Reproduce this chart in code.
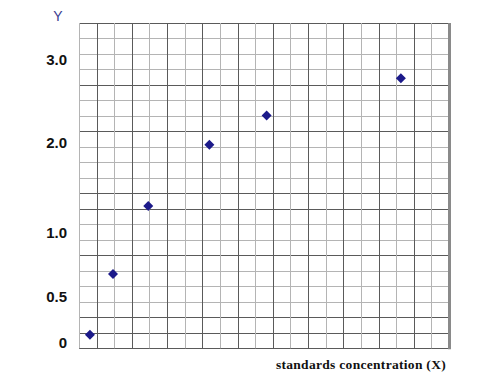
<!DOCTYPE html>
<html>
<head>
<meta charset="utf-8">
<script src="https://cdn.jsdelivr.net/npm/d3@7"></script>
<style>
  body { margin: 0; background: #fff; }
  svg { display: block; }
</style>
</head>
<body>
<div id="chart"></div>
<script>
// standards readings (x in grid units, y in absorbance-like units)
const xValues = [0.62, 1.93, 3.93, 7.4, 10.65, 18.27];
const yValues = [0.09, 0.68, 1.3, 1.98, 2.33, 2.78];

// tick labels on the y side (hand drawn, uneven spacing)
const yTicks = [0, 0.5, 1.0, 2.0, 3.0];
const yTickLabels = ["0", "0.5", "1.0", "2.0", "3.0"];

const gridCols = 21;
const gridRows = 21;
const darkRows = [4, 7, 11, 12, 15, 19, 20];

const width = 499;
const height = 385;

const margin = { top: 23, right: 50, bottom: 37, left: 79 };

const svg = d3
  .select("#chart")
  .append("svg")
  .attr("width", width)
  .attr("height", height);

const gx = d3
  .scaleLinear()
  .domain([0, gridCols])
  .range([margin.left, width - margin.right]);

const gy = d3
  .scaleLinear()
  .domain([0, gridRows])
  .range([margin.top, height - margin.bottom + 0.3]);

// y axis drawn by hand on the original, so map values piecewise
const y = d3
  .scaleLinear()
  .domain(yTicks)
  .range([343, 297, 233, 143, 60]);

const grid = svg.append("g").attr("class", "grid");

grid
  .selectAll(".hline")
  .data(d3.range(gridRows + 1))
  .join("line")
  .attr("class", "hline")
  .attr("x1", gx(0))
  .attr("x2", gx(gridCols))
  .attr("y1", (d) => Math.round(gy(d)) + 0.5)
  .attr("y2", (d) => Math.round(gy(d)) + 0.5)
  .attr("stroke", (d) => (darkRows.includes(d) || d === 0 || d === gridRows ? "#5a5a5a" : "#b4b4b4"))
  .attr("stroke-width", 1);

grid
  .selectAll(".vline")
  .data(d3.range(gridCols + 1))
  .join("line")
  .attr("class", "vline")
  .attr("y1", gy(0))
  .attr("y2", gy(gridRows))
  .attr("x1", (d) => Math.round(gx(d)) + 0.5)
  .attr("x2", (d) => Math.round(gx(d)) + 0.5)
  .attr("stroke", (d) => (d % 2 === 1 ? "#5a5a5a" : "#b4b4b4"))
  .attr("stroke-width", 1);

// thick right border
svg
  .append("line")
  .attr("x1", gx(gridCols) + 0.5)
  .attr("x2", gx(gridCols) + 0.5)
  .attr("y1", gy(0))
  .attr("y2", gy(gridRows) + 1)
  .attr("stroke", "#8a8a8a")
  .attr("stroke-width", 3);

// y tick labels
svg
  .append("g")
  .attr("class", "y-labels")
  .selectAll("text")
  .data(yTicks)
  .join("text")
  .attr("x", 67)
  .attr("y", (d) => y(d))
  .attr("dy", "0.35em")
  .attr("text-anchor", "end")
  .attr("font-family", "Liberation Sans, Arial, sans-serif")
  .attr("font-weight", "bold")
  .attr("font-size", 15)
  .attr("fill", "#111")
  .text((d, i) => yTickLabels[i]);

svg
  .append("text")
  .attr("x", 58)
  .attr("y", 21)
  .attr("text-anchor", "middle")
  .attr("font-family", "Liberation Sans, Arial, sans-serif")
  .attr("font-size", 14)
  .attr("fill", "#3b3b8f")
  .text("Y");

svg
  .append("text")
  .attr("x", 446)
  .attr("y", 369)
  .attr("text-anchor", "end")
  .attr("font-family", "Liberation Serif, Times New Roman, serif")
  .attr("font-weight", "bold")
  .attr("font-size", 13.5)
  .attr("letter-spacing", 0.3)
  .attr("fill", "#111")
  .text("standards concentration (X)");

// points
svg
  .append("g")
  .attr("class", "points")
  .selectAll("path")
  .data(xValues.map((x, i) => ({ x, y: yValues[i] })))
  .join("path")
  .attr("transform", (d) => `translate(${gx(d.x)},${y(d.y)})`)
  .attr("d", d3.symbol(d3.symbolDiamond2, 64))
  .attr("fill", "#1c1a8a");
</script>
</body>
</html>
